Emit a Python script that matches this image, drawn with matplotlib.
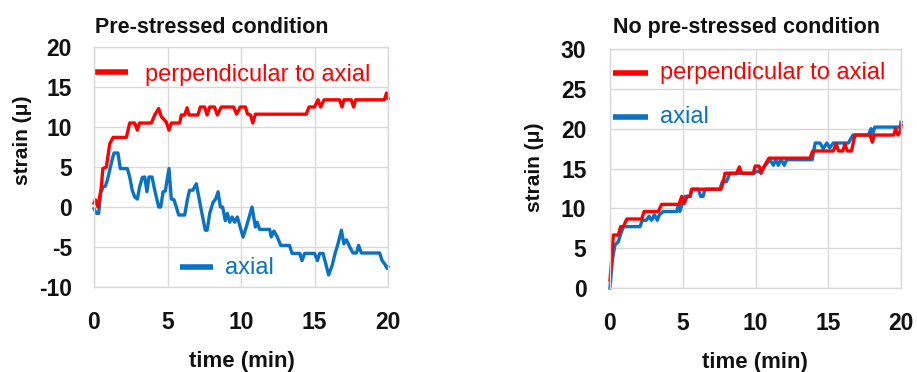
import matplotlib
matplotlib.use("Agg")
import matplotlib.pyplot as plt

plt.rcParams['font.family'] = ['Liberation Sans', 'DejaVu Sans']
plt.rcParams['axes.unicode_minus'] = False

# ---------------- data ----------------
# Pre-stressed condition
pre_perp_t = [0, 0.1, 0.27, 0.5, 0.6, 0.84, 1.07, 1.3, 2.2, 2.43, 2.77, 2.95, 3.1, 3.9,
              4.13, 4.4, 4.58, 4.92, 5.1, 5.26, 5.83, 5.94, 6.17, 6.33, 6.46, 7.07, 7.23,
              7.53, 7.69, 7.87, 8.2, 8.39, 8.66, 9.5, 9.7, 9.95, 10.3, 10.45, 10.65, 10.8,
              10.98, 14.44, 14.63, 15.0, 15.24, 15.42, 15.65, 16.7, 16.87, 17.0, 17.5,
              17.66, 17.8, 19.75, 19.9, 20.0]
pre_perp_v = [0.5, 0.9, 0.0, 2.5, 4.8, 5.0, 7.9, 8.7, 8.7, 10.5, 10.5, 9.6, 10.5, 10.5,
              11.5, 12.3, 11.3, 10.6, 9.6, 10.5, 10.5, 11.5, 11.5, 12.4, 11.5, 11.5, 12.5,
              12.5, 11.5, 12.5, 12.5, 11.5, 12.5, 12.5, 11.6, 12.5, 12.5, 11.6, 11.5, 10.5,
              11.6, 11.6, 12.5, 12.5, 13.4, 12.5, 13.4, 13.4, 12.5, 13.4, 13.4,
              12.5, 13.4, 13.4, 14.25, 13.6]

pre_axial_t = [0, 0.16, 0.32, 0.45, 0.61, 0.77, 0.9, 1.07, 1.22, 1.36, 1.63, 1.79, 2.27,
               2.43, 2.6, 2.77, 2.95, 3.1, 3.29, 3.45, 3.6, 3.74, 3.95, 4.13, 4.4, 4.54,
               4.7, 4.85, 5.1, 5.26, 5.44, 5.6, 5.76, 6.17, 6.35, 6.5, 6.73, 6.96, 7.3,
               7.57, 7.7, 7.87, 8.1, 8.28, 8.44, 8.6, 8.75, 8.93, 9.07, 9.23, 9.39, 9.57,
               9.75, 10.14, 10.36, 10.75, 10.98, 11.1, 11.27, 11.95, 12.06, 12.24, 12.47,
               12.7, 13.3, 13.47, 14.0, 14.15, 14.33, 15.0, 15.2, 15.35, 15.58, 15.74,
               15.96, 16.2, 16.4, 16.6, 16.83, 17.0, 17.17, 17.4, 17.62, 17.85, 18.0,
               18.19, 19.43, 19.6, 19.77, 19.95, 20.0]
pre_axial_v = [-0.2, -0.8, -0.8, 1.7, 2.5, 2.6, 3.3, 4.6, 5.8, 6.75, 6.75, 4.8, 4.8,
               3.75, 2.1, 1.25, 1.0, 2.5, 3.7, 3.75, 1.9, 3.75, 3.75, 2.1, 0.0, 0.0,
               1.9, 2.0, 4.8, 1.0, 0.9, 0.0, -1.0, -1.0, 0.9, 2.1, 2.1, 2.9, -0.4,
               -2.9, -2.9, -0.8, 0.6, 1.0, 1.9, 0.0, 0.0, -1.7, -0.8, -1.9, -1.25, -1.9,
               -1.25, -3.75, -2.5, 0.0, -2.5, -1.9, -2.8, -2.8, -3.75, -3.0, -3.75,
               -4.8, -4.8, -5.8, -5.8, -6.7, -5.8, -5.8, -6.7, -5.8, -5.8, -6.9,
               -8.5, -7.3, -5.8, -4.6, -2.9, -4.6, -4.1, -5.0, -5.75, -5.75, -4.8,
               -5.75, -5.75, -6.7, -7.1, -7.7, -7.5]

# No pre-stressed condition
nop_perp_t = [0, 0.11, 0.23, 0.57, 0.73, 0.92, 1.15, 2.18, 2.34, 3.32, 3.55, 4.74, 4.93,
              5.09, 5.3, 5.5, 5.6, 7.63, 7.79, 7.9, 8.7, 8.89, 9.05, 9.85, 9.98, 10.25,
              10.38, 10.6, 10.93, 13.75, 13.93, 15.35, 15.55, 15.7, 16.0, 16.15, 16.3,
              16.6, 16.83, 17.87, 18.03, 18.17, 19.5, 19.63, 19.78, 19.93, 20.0]
nop_perp_v = [1.0, 3.5, 6.65, 6.65, 7.7, 7.7, 8.66, 8.66, 9.6, 9.6, 10.5, 10.5, 11.5,
              10.6, 11.5, 11.5, 12.4, 12.4, 13.35, 14.4, 14.4, 15.2, 14.4, 14.4, 15.3, 15.3,
              14.4, 15.3, 16.3, 16.3, 17.2, 17.2, 18.1, 17.2, 17.2, 18.1, 17.2,
              17.2, 19.2, 19.2, 18.3, 19.2, 19.2, 20.0, 19.2, 19.5, 20.4]

nop_axial_t = [0, 0.16, 0.34, 0.57, 0.76, 0.92, 2.06, 2.22, 2.5, 2.68, 2.86, 3.05, 3.25,
               3.4, 3.67, 4.58, 4.7, 4.8, 4.97, 5.15, 5.5, 5.66, 6.07, 6.23, 6.4, 6.53,
               7.56, 7.72, 8.0, 8.25, 9.9, 10.0, 10.3, 10.77, 11.0, 11.23, 11.39, 11.57,
               11.75, 11.98, 12.14, 13.9, 14.1, 14.43, 14.66, 14.9, 15.1, 15.35, 16.38,
               16.7, 17.76, 17.94, 18.05, 18.2, 19.95, 20.0]
nop_axial_v = [0.0, 3.5, 5.4, 5.8, 6.9, 7.7, 7.7, 8.5, 8.5, 9.0, 8.5, 9.2, 8.5,
               9.2, 9.6, 9.6, 10.4, 9.6, 10.6, 11.5, 11.5, 12.4, 12.4, 11.5, 11.5, 12.4,
               12.4, 13.35, 13.35, 14.4, 14.4, 14.6, 14.6, 15.6, 16.1, 15.4, 16.15, 15.4,
               16.15, 15.4, 16.1, 16.1, 18.2, 18.2, 17.5, 18.2, 17.6, 18.2, 18.2,
               19.2, 19.2, 20.0, 19.3, 20.2, 20.2, 20.8]

x_ticks = [0, 5, 10, 15, 20]
pre_y_ticks = [-10, -5, 0, 5, 10, 15, 20]
nop_y_ticks = [0, 5, 10, 15, 20, 25, 30]

RED = '#FF0000'
BLUE = '#0A72C4'
GRID = '#D9D9D9'

W, H = 917, 372
fig = plt.figure(figsize=(W / 100, H / 100), dpi=100)


def px_axes(x0, x1, ytop, ybot):
    return fig.add_axes([x0 / W, (H - ybot) / H, (x1 - x0) / W, (ybot - ytop) / H])


def style(ax, yticks, ypad):
    ax.set_xlim(0, 20)
    ax.set_ylim(yticks[0], yticks[-1])
    ax.set_xticks(x_ticks)
    ax.set_yticks(yticks)
    ax.grid(True, color=GRID, linewidth=1.0)
    ax.set_axisbelow(True)
    for s in ax.spines.values():
        s.set_color(GRID)
        s.set_linewidth(1.0)
    ax.tick_params(axis='both', length=0, labelsize=16.5)
    ax.tick_params(axis='x', pad=17)
    ax.tick_params(axis='y', pad=ypad)
    for lab in ax.get_xticklabels() + ax.get_yticklabels():
        lab.set_fontweight('bold')
        lab.set_color('#111111')


def key(ax, x0, x1, y, color, label, tx, ty):
    ax.plot([x0, x1], [y, y], color=color, lw=4, transform=ax.transAxes,
            clip_on=False, solid_capstyle='butt')
    ax.text(tx, ty, label, color=color, fontsize=17, transform=ax.transAxes,
            ha='left', va='baseline')


# ---- left chart ----
ax1 = px_axes(94, 388, 47, 287)
style(ax1, pre_y_ticks, 16)
ax1.plot(pre_axial_t, pre_axial_v, color=BLUE, lw=2.4, clip_on=False)
ax1.plot(pre_perp_t, pre_perp_v, color=RED, lw=2.4, clip_on=False)
key(ax1, 0.004, 0.116, 0.896, RED, 'perpendicular to axial', 0.173, 0.858)
key(ax1, 0.293, 0.405, 0.083, BLUE, 'axial', 0.446, 0.054)

# ---- right chart ----
ax2 = px_axes(610, 901, 49, 288)
style(ax2, nop_y_ticks, 17)
ax2.plot(nop_axial_t, nop_axial_v, color=BLUE, lw=2.4, clip_on=False)
ax2.plot(nop_perp_t, nop_perp_v, color=RED, lw=2.4, clip_on=False)
key(ax2, 0.010, 0.131, 0.90, RED, 'perpendicular to axial', 0.172, 0.874)
key(ax2, 0.010, 0.131, 0.715, BLUE, 'axial', 0.172, 0.69)


def ftext(x, y, s, **kw):
    fig.text(x / W, (H - y) / H, s, **kw)


ftext(95, 33, 'Pre-stressed condition', fontsize=15.5, fontweight='bold',
      ha='left', va='baseline', color='#111111')
ftext(613, 33, 'No pre-stressed condition', fontsize=15.5, fontweight='bold',
      ha='left', va='baseline', color='#111111')
ftext(242, 367, 'time (min)', fontsize=16, fontweight='bold', ha='center',
      va='baseline', color='#111111')
ftext(755, 368, 'time (min)', fontsize=16, fontweight='bold', ha='center',
      va='baseline', color='#111111')
ftext(23, 140, 'strain (μ)', fontsize=15, fontweight='bold', ha='center',
      va='center', rotation=90, color='#111111')
ftext(535, 167, 'strain (μ)', fontsize=15, fontweight='bold', ha='center',
      va='center', rotation=90, color='#111111')

fig.savefig('out.png', dpi=100)
